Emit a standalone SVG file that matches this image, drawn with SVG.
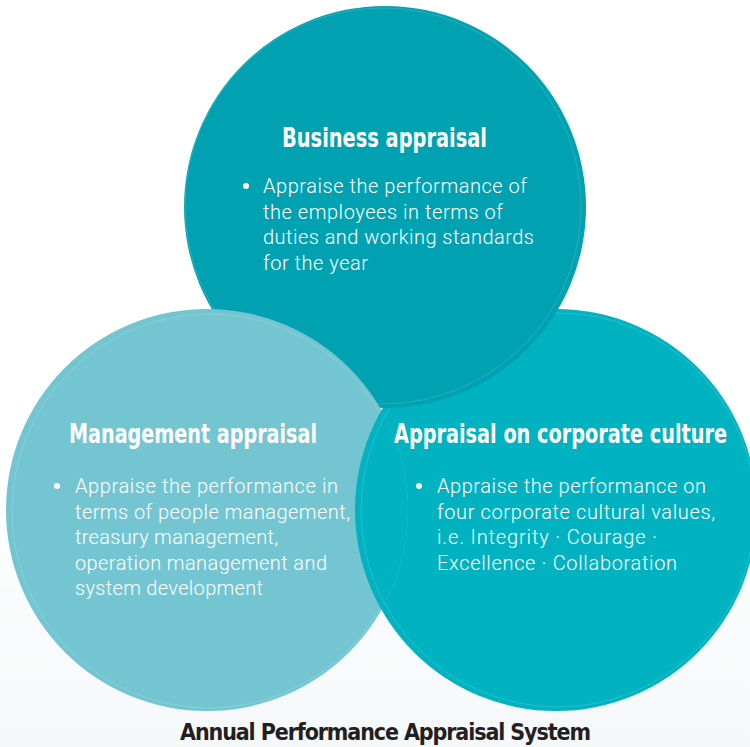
<svg xmlns="http://www.w3.org/2000/svg" width="750" height="747" viewBox="0 0 750 747">
  <defs>
    <linearGradient id="bg" x1="0" y1="0" x2="0" y2="1">
      <stop offset="0" stop-color="#ffffff"/>
      <stop offset="0.6" stop-color="#ffffff"/>
      <stop offset="1" stop-color="#f5f8f9"/>
    </linearGradient>
    <style>
      .disc-top { fill: #00a1b1; }
      .disc-left { fill: #73c6d1; }
      .disc-right { fill: #01b2c1; }
      .rim { fill: none; stroke: #ffffff; stroke-opacity: 0.22; stroke-width: 0.7; }
      .title { font-family: "Liberation Sans Narrow", "DejaVu Sans Condensed", "Liberation Sans", sans-serif; font-weight: bold; font-size: 26px; fill: #ffffff; }
      .body { font-family: Roboto, "Liberation Sans", sans-serif; font-weight: 300; font-size: 20px; fill: #ffffff; }
      .caption { font-family: "Liberation Sans Narrow", "DejaVu Sans Condensed", "Liberation Sans", sans-serif; font-weight: bold; font-size: 23px; fill: #231f20; }
    </style>
  </defs>

  <rect width="750" height="747" fill="url(#bg)"/>

  <!-- Discs are layered in a cycle: left over top, top over right, right over left -->
  <g id="appraisal-on-corporate-culture">
    <circle class="disc-right" cx="556" cy="510" r="201"/>
    <circle class="rim" cx="558" cy="510" r="197"/>
  </g>

  <g id="business-appraisal">
    <circle class="disc-top" cx="385" cy="207" r="201"/>
    <circle class="rim" cx="383" cy="206" r="198"/>
  </g>

  <g id="management-appraisal">
    <circle class="disc-left" cx="207" cy="510" r="201"/>
    <circle class="rim" cx="209" cy="511" r="197"/>
  </g>

  <!-- Right disc redrawn over the left disc only where they overlap -->
  <clipPath id="left-area">
    <circle cx="207" cy="510" r="201"/>
  </clipPath>
  <g clip-path="url(#left-area)">
    <circle class="disc-right" cx="556" cy="510" r="201"/>
    <circle class="rim" cx="558" cy="510" r="197"/>
  </g>

  <!-- Labels -->
  <g id="business-text">
    <text class="title" x="282" y="147" textLength="205" lengthAdjust="spacingAndGlyphs">Business appraisal</text>
    <circle cx="246" cy="186" r="3" fill="#ffffff"/>
    <text class="body" x="263" y="193" textLength="264">Appraise the performance of</text>
    <text class="body" x="263" y="218.5" textLength="240">the employees in terms of</text>
    <text class="body" x="263" y="244" textLength="271">duties and working standards</text>
    <text class="body" x="263" y="269.5" textLength="105">for the year</text>
  </g>

  <g id="management-text">
    <text class="title" x="69" y="443" textLength="248" lengthAdjust="spacingAndGlyphs">Management appraisal</text>
    <circle cx="57" cy="486" r="3" fill="#ffffff"/>
    <text class="body" x="75" y="493" textLength="263">Appraise the performance in</text>
    <text class="body" x="75" y="518.5" textLength="275">terms of people management,</text>
    <text class="body" x="75" y="544" textLength="203">treasury management,</text>
    <text class="body" x="75" y="569.5" textLength="252">operation management and</text>
    <text class="body" x="75" y="595" textLength="188">system development</text>
  </g>

  <g id="culture-text">
    <text class="title" x="394" y="443" textLength="333" lengthAdjust="spacingAndGlyphs">Appraisal on corporate culture</text>
    <circle cx="419" cy="486" r="3" fill="#ffffff"/>
    <text class="body" x="437" y="493" textLength="269">Appraise the performance on</text>
    <text class="body" x="437" y="518.5" textLength="278">four corporate cultural values,</text>
    <text class="body" x="437" y="544" textLength="220">i.e. Integrity · Courage ·</text>
    <text class="body" x="437" y="569.5" textLength="240">Excellence · Collaboration</text>
  </g>

  <text id="caption" class="caption" x="180" y="740" textLength="411">Annual Performance Appraisal System</text>
</svg>
